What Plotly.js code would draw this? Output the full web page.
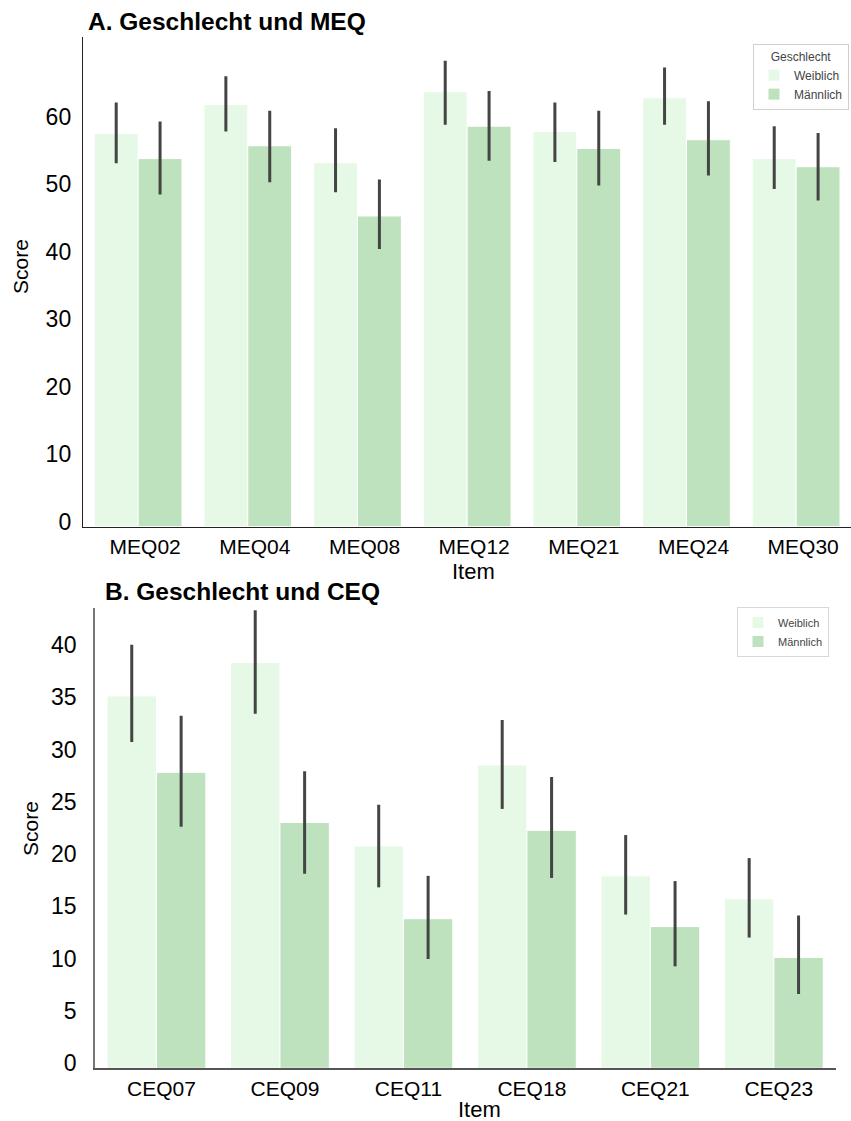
<!DOCTYPE html>
<html>
<head>
<meta charset="utf-8">
<script src="https://cdn.plot.ly/plotly-3.0.1.min.js"></script>
<style>
  html, body { margin: 0; padding: 0; background: #ffffff; }
  #chart { width: 851px; height: 1121px; }
</style>
</head>
<body>
<div id="chart"></div>
<script>
// Panel A: mean MEQ item scores by gender, with confidence intervals
const meqItems = ['MEQ02', 'MEQ04', 'MEQ08', 'MEQ12', 'MEQ21', 'MEQ24', 'MEQ30'];
const meqWeiblich     = [58.2, 62.5, 53.9, 64.4, 58.5, 63.5, 54.5];
const meqWeiblichLo   = [53.8, 58.5, 49.5, 59.5, 54.0, 59.5, 50.0];
const meqWeiblichHi   = [62.8, 66.7, 59.0, 69.0, 62.8, 68.0, 59.3];
const meqMaennlich    = [54.5, 56.4, 46.0, 59.3, 56.0, 57.3, 53.3];
const meqMaennlichLo  = [49.2, 51.0, 41.1, 54.2, 50.5, 52.0, 48.3];
const meqMaennlichHi  = [60.0, 61.6, 51.4, 64.5, 61.6, 63.0, 58.3];
const meqTicks        = [0, 10, 20, 30, 40, 50, 60];

// Panel B: mean CEQ item scores by gender, with confidence intervals
const ceqItems = ['CEQ07', 'CEQ09', 'CEQ11', 'CEQ18', 'CEQ21', 'CEQ23'];
const ceqWeiblich     = [35.6, 38.8, 21.25, 29.0, 18.4, 16.2];
const ceqWeiblichLo   = [31.2, 33.9, 17.3, 24.8, 14.7, 12.5];
const ceqWeiblichHi   = [40.5, 43.8, 25.2, 33.3, 22.3, 20.1];
const ceqMaennlich    = [28.3, 23.5, 14.3, 22.75, 13.55, 10.6];
const ceqMaennlichLo  = [23.1, 18.6, 10.45, 18.2, 9.75, 7.1];
const ceqMaennlichHi  = [33.7, 28.4, 18.4, 27.85, 17.9, 14.6];
const ceqTicks        = [0, 5, 10, 15, 20, 25, 30, 35, 40];

const groupNames = ['Weiblich', 'Männlich'];
const groupColors = ['#e6f9e6', '#bde2bd'];

const W = 851, H = 1121;
const px = v => v / W;          // horizontal pixel -> paper fraction
const py = v => (H - v) / H;    // vertical pixel (from top) -> paper fraction

function barTrace(x, y, lo, hi, idx, xa, ya, legendId) {
  return {
    type: 'bar',
    name: groupNames[idx],
    x: x,
    y: y,
    xaxis: xa,
    yaxis: ya,
    legend: legendId,
    marker: { color: groupColors[idx], line: { color: '#ffffff', width: 1 } },
    error_y: {
      type: 'data',
      symmetric: false,
      array: hi.map((h, i) => h - y[i]),
      arrayminus: lo.map((l, i) => y[i] - l),
      color: '#444444',
      thickness: 3,
      width: 0
    },
    hoverinfo: 'x+y+name'
  };
}

const traces = [
  barTrace(meqItems, meqWeiblich, meqWeiblichLo, meqWeiblichHi, 0, 'x', 'y', 'legend'),
  barTrace(meqItems, meqMaennlich, meqMaennlichLo, meqMaennlichHi, 1, 'x', 'y', 'legend'),
  barTrace(ceqItems, ceqWeiblich, ceqWeiblichLo, ceqWeiblichHi, 0, 'x2', 'y2', 'legend2'),
  barTrace(ceqItems, ceqMaennlich, ceqMaennlichLo, ceqMaennlichHi, 1, 'x2', 'y2', 'legend2')
];

const baseFont = 'Liberation Sans, Arial, Helvetica, sans-serif';

function xAxis(domain, anchor, lineColor, shift) {
  return {
    domain: domain,
    anchor: anchor,
    type: 'category',
    showline: true,
    linecolor: lineColor,
    linewidth: 1.5,
    showgrid: false,
    zeroline: false,
    ticks: '',
    ticklabelstandoff: 1,
    ticklabelshift: shift,
    tickfont: { family: baseFont, size: 21, color: '#000000' },
    fixedrange: true
  };
}

function yAxis(domain, anchor, range, tickvals, lineColor, standoff) {
  return {
    domain: domain,
    anchor: anchor,
    range: range,
    tickmode: 'array',
    tickvals: tickvals,
    ticktext: tickvals.map(String),
    showline: true,
    linecolor: lineColor,
    linewidth: 1.5,
    showgrid: false,
    zeroline: false,
    ticks: '',
    ticklabelstandoff: standoff,
    ticklabelshift: -5,
    tickfont: { family: baseFont, size: 23, color: '#000000' },
    fixedrange: true
  };
}

const layout = {
  width: W,
  height: H,
  margin: { l: 0, r: 0, t: 0, b: 0 },
  paper_bgcolor: '#ffffff',
  plot_bgcolor: '#ffffff',
  barmode: 'group',
  bargap: 0.2,
  bargroupgap: 0,
  font: { family: baseFont, color: '#000000' },
  xaxis: xAxis([px(83.3), 1.0], 'y', '#222222', 7),
  yaxis: yAxis([py(526.5), py(36.7)], 'x', [0, 72.56], meqTicks, '#222222', 6),
  xaxis2: xAxis([px(94.7), px(835.6)], 'y2', '#555555', 5),
  yaxis2: yAxis([py(1068.3), py(608.3)], 'x2', [0, 43.98], ceqTicks, '#777777', 12),
  legend: {
    x: px(753), y: py(44), xanchor: 'left', yanchor: 'top',
    bgcolor: '#ffffff', bordercolor: '#d0d0d0', borderwidth: 1,
    font: { family: baseFont, size: 12, color: '#444444' },
    title: { text: 'Geschlecht', side: 'top center', font: { family: baseFont, size: 12, color: '#444444' } },
    tracegroupgap: 0, itemclick: false, itemdoubleclick: false
  },
  legend2: {
    x: px(737), y: py(607), xanchor: 'left', yanchor: 'top',
    bgcolor: '#ffffff', bordercolor: '#d8d8d8', borderwidth: 1,
    font: { family: baseFont, size: 11, color: '#444444' },
    tracegroupgap: 0, itemclick: false, itemdoubleclick: false
  },
  annotations: [
    { text: '<b>A. Geschlecht und MEQ</b>', xref: 'paper', yref: 'paper', x: px(86), y: py(21),
      xanchor: 'left', yanchor: 'middle', showarrow: false,
      font: { family: baseFont, size: 24.5, color: '#000000' } },
    { text: '<b>B. Geschlecht und CEQ</b>', xref: 'paper', yref: 'paper', x: px(103), y: py(591),
      xanchor: 'left', yanchor: 'middle', showarrow: false,
      font: { family: baseFont, size: 24.5, color: '#000000' } },
    { text: 'Score', xref: 'paper', yref: 'paper', x: px(21), y: py(267), textangle: -90,
      xanchor: 'center', yanchor: 'middle', showarrow: false,
      font: { family: baseFont, size: 21, color: '#000000' } },
    { text: 'Item', xref: 'paper', yref: 'paper', x: px(473), y: py(571),
      xanchor: 'center', yanchor: 'middle', showarrow: false,
      font: { family: baseFont, size: 22, color: '#000000' } },
    { text: 'Score', xref: 'paper', yref: 'paper', x: px(30), y: py(829), textangle: -90,
      xanchor: 'center', yanchor: 'middle', showarrow: false,
      font: { family: baseFont, size: 21, color: '#000000' } },
    { text: 'Item', xref: 'paper', yref: 'paper', x: px(479), y: py(1109),
      xanchor: 'center', yanchor: 'middle', showarrow: false,
      font: { family: baseFont, size: 22, color: '#000000' } }
  ]
};

Plotly.newPlot('chart', traces, layout, { staticPlot: true, displayModeBar: false });
</script>
</body>
</html>
